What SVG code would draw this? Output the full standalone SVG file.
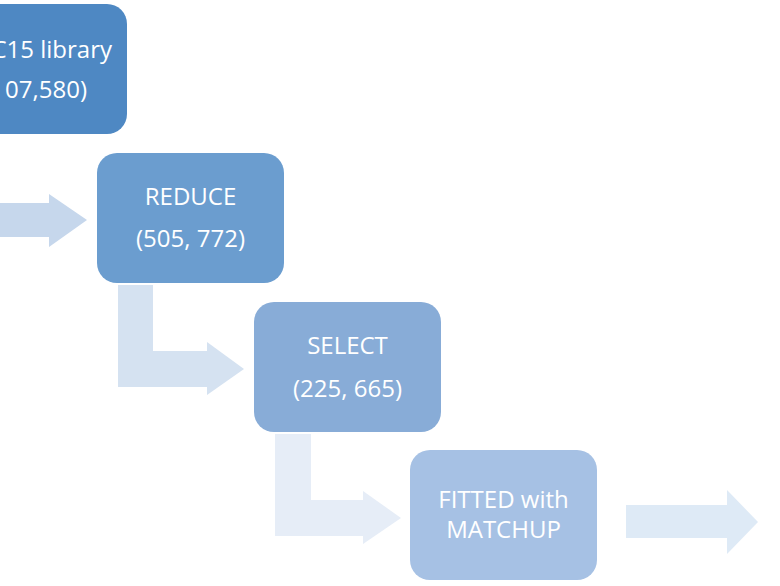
<svg xmlns="http://www.w3.org/2000/svg" width="780" height="586" viewBox="0 0 780 586">
<style>
.t{font-family:"Open Sans","Liberation Sans",sans-serif;font-size:24px;fill:#ffffff;text-anchor:middle}
.te{font-family:"Open Sans","Liberation Sans",sans-serif;font-size:24px;fill:#ffffff;text-anchor:end}
</style>
<rect width="780" height="586" fill="#ffffff"/>
<g id="connectors">
<polygon points="0,203 49,203 49,194 87,220 49,247 49,237 0,237" fill="#c6d7ec"/>
<polygon points="118,285 153,285 153,351 207,351 207,342 244,369 207,395 207,387 118,387" fill="#d5e2f1"/>
<polygon points="275,434 311,434 311,500 363,500 363,491 401,518 363,544 363,536 275,536" fill="#e6edf7"/>
<polygon points="626,505 727,505 727,490 758,522 727,554 727,538 626,538" fill="#deeaf6"/>
</g>
<g id="node-library">
<rect x="-60" y="4" width="187" height="130" rx="20" fill="#4e88c3"/>
<text class="te" x="112" y="58">C15 library</text>
<text class="te" x="87" y="98">07,580)</text>
</g>
<g id="node-reduce">
<rect x="97" y="153" width="187" height="130" rx="20" fill="#6b9dcf"/>
<text class="t" x="190.5" y="205">REDUCE</text>
<text class="t" x="190.5" y="247">(505, 772)</text>
</g>
<g id="node-select">
<rect x="254" y="302" width="187" height="130" rx="20" fill="#88acd7"/>
<text class="t" x="347.5" y="354">SELECT</text>
<text class="t" x="347.5" y="397">(225, 665)</text>
</g>
<g id="node-fitted">
<rect x="410" y="450" width="187" height="130" rx="20" fill="#a6c1e4"/>
<text class="t" x="503.5" y="508">FITTED with</text>
<text class="t" x="503.5" y="538">MATCHUP</text>
</g>
</svg>
